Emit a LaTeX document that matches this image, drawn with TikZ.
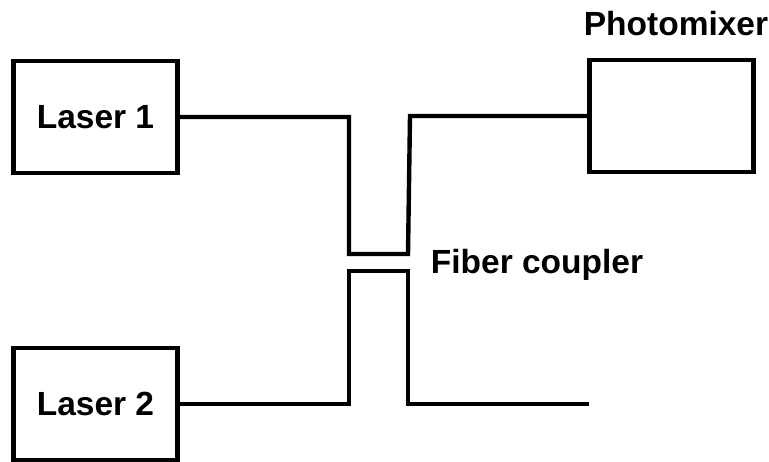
\documentclass[tikz,border=0pt]{standalone}
\usepackage{fontspec}
\setmainfont{Liberation Sans}
\begin{document}
\begin{tikzpicture}[x=1pt, y=-1pt,
    every node/.style={font=\fontsize{33.5}{38}\selectfont\bfseries},
    box/.style={draw, line width=4.6pt, minimum width=164pt, minimum height=112pt, inner sep=0pt},
    fiber/.style={line width=4.4pt, line join=miter}]
    \useasboundingbox (0,0) rectangle (769,461);

    % Sources and detector
    \node[box] (laser1) at (95.5,117) {Laser 1};
    \node[box] (laser2) at (95.5,404) {Laser 2};
    \node[box] (photo) at (671.5,116) {};
    \node (photolbl) at (676,24) {Photomixer};

    % Coupler corners
    \coordinate (ul) at (349,254);
    \coordinate (ur) at (408,254);
    \coordinate (ut) at (410,116);
    \coordinate (ll) at (349,271);
    \coordinate (lr) at (408,271);
    \coordinate (out) at (589,404);
    \node (couplbl) at (537,265) {Fiber coupler};

    % Fibers
    \draw[fiber] (laser1.east) -| (ul) -- (ur) -- (ut) -- (photo.west);
    \draw[fiber] (laser2.east) -| (ll) -- (lr) |- (out);
\end{tikzpicture}
\end{document}
